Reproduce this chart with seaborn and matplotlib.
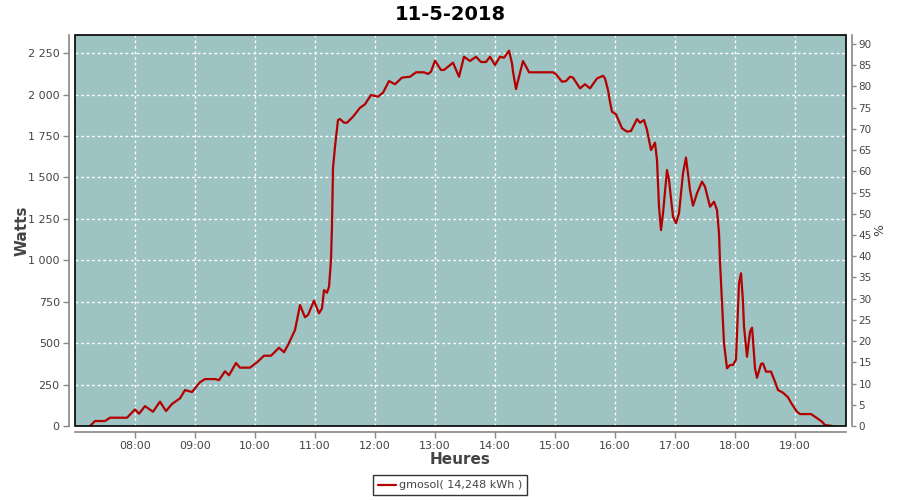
import matplotlib
matplotlib.use("Agg")
import matplotlib.pyplot as plt
import matplotlib.dates as mdates
from matplotlib.ticker import FuncFormatter, MultipleLocator
from matplotlib.patches import Rectangle
import seaborn as sns
import pandas as pd

# ---- data ----
times = ["07:15", "07:20", "07:30", "07:35", "07:52", "08:00", "08:04", "08:10", "08:18", "08:25",
         "08:31", "08:37", "08:45", "08:50", "08:57", "09:05", "09:10", "09:20", "09:24", "09:30",
         "09:34", "09:41", "09:45", "09:55", "10:02", "10:09", "10:16", "10:24", "10:29", "10:33",
         "10:40", "10:45", "10:50", "10:53", "10:59", "11:04", "11:07", "11:09", "11:12", "11:14",
         "11:15", "11:16", "11:17", "11:18", "11:20", "11:22", "11:23", "11:25", "11:29", "11:32",
         "11:38", "11:45", "11:50", "11:56", "12:03", "12:08", "12:14", "12:20", "12:27", "12:35",
         "12:41", "12:49", "12:53", "12:56", "13:00", "13:06", "13:09", "13:18", "13:24", "13:29",
         "13:35", "13:41", "13:46", "13:51", "13:55", "14:00", "14:05", "14:09", "14:14", "14:17",
         "14:18", "14:21", "14:24", "14:28", "14:32", "14:34", "14:58", "15:01", "15:07", "15:11",
         "15:15", "15:18", "15:25", "15:30", "15:35", "15:42", "15:48", "15:50", "15:53", "15:55",
         "15:57", "16:01", "16:07", "16:12", "16:16", "16:22", "16:25", "16:29", "16:32", "16:36",
         "16:40", "16:42", "16:44", "16:46", "16:48", "16:52", "16:54", "16:58", "17:01", "17:04",
         "17:08", "17:11", "17:15", "17:18", "17:22", "17:27", "17:30", "17:35", "17:39", "17:42",
         "17:44", "17:45", "17:47", "17:49", "17:52", "17:55", "17:58", "18:01", "18:02", "18:04",
         "18:06", "18:08", "18:09", "18:12", "18:15", "18:17", "18:18", "18:20", "18:22", "18:26",
         "18:28", "18:31", "18:36", "18:40", "18:43", "18:48", "18:53", "18:57", "19:02", "19:05",
         "19:16", "19:20", "19:27", "19:30", "19:37"]
watts = [0, 30, 30, 50, 50, 100, 74, 120, 86, 147,
         90, 133, 167, 217, 205, 264, 283, 283, 277, 330,
         306, 380, 352, 352, 384, 424, 424, 472, 445, 489,
         579, 730, 656, 670, 756, 680, 710, 820, 804, 840,
         921, 1001, 1213, 1555, 1685, 1790, 1846, 1852, 1830, 1830,
         1866, 1920, 1941, 1997, 1987, 2011, 2081, 2062, 2102, 2107,
         2134, 2134, 2124, 2138, 2204, 2148, 2148, 2192, 2107, 2228,
         2202, 2228, 2196, 2196, 2228, 2178, 2228, 2222, 2264, 2188,
         2138, 2033, 2107, 2202, 2158, 2134, 2134, 2122, 2077, 2081,
         2107, 2102, 2037, 2062, 2037, 2097, 2113, 2097, 2027, 1956,
         1896, 1881, 1796, 1776, 1780, 1852, 1830, 1846, 1786, 1665,
         1709, 1605, 1323, 1182, 1283, 1544, 1484, 1263, 1223, 1283,
         1525, 1619, 1424, 1329, 1404, 1474, 1444, 1323, 1353, 1303,
         1163, 991, 740, 499, 348, 368, 368, 400, 559, 861,
         921, 750, 600, 418, 569, 593, 519, 348, 291, 374,
         378, 328, 328, 267, 217, 201, 173, 131, 86, 72,
         72, 56, 26, 6, 0]
series_label = "gmosol( 14,248 kWh )"
title = "11-5-2018"
date = "2018-05-11"

df = pd.DataFrame({"time": pd.to_datetime([f"{date} {t}" for t in times]),
                   "watts": watts})

sns.set_theme(style="white")
plt.rcParams["font.family"] = ["DejaVu Sans"]

BG = "#9dc3c2"
RED = "#b40000"
TXT = "#444444"
AX = "#888888"

fig = plt.figure(figsize=(9, 5), dpi=100)
ax = fig.add_axes([75 / 900, 1 - 426 / 500, (846 - 75) / 900, (426 - 35) / 500])
ax.set_facecolor(BG)

sns.lineplot(data=df, x="time", y="watts", ax=ax, color=RED, linewidth=1.6,
             label=series_label, legend=False)

ax.set_xlim(pd.Timestamp(f"{date} 07:00"), pd.Timestamp(f"{date} 19:51"))
ax.set_ylim(0, 2359)
ax.yaxis.set_major_locator(MultipleLocator(250))
ax.yaxis.set_major_formatter(FuncFormatter(lambda v, p: f"{int(v):,}".replace(",", " ")))
ax.xaxis.set_major_locator(mdates.HourLocator(byhour=range(8, 20)))
ax.xaxis.set_major_formatter(mdates.DateFormatter("%H:%M"))

ax.grid(True, color="white", linestyle=(0, (2, 2)), linewidth=1)

for s in ["top", "right"]:
    ax.spines[s].set_visible(False)
for s in ["left", "bottom"]:
    ax.spines[s].set_position(("outward", 4))
    ax.spines[s].set_color(AX)
    ax.spines[s].set_linewidth(1.2)
ax.add_patch(Rectangle((0, 0), 1, 1, transform=ax.transAxes, fill=False,
                       edgecolor="black", linewidth=1.2, clip_on=False, zorder=5))

ax.tick_params(axis="both", which="major", direction="out", length=4, width=1,
               color=AX, labelsize=8, labelcolor=TXT, left=True, bottom=True, pad=3)

ax.set_xlabel("Heures", fontsize=11, color=TXT, fontweight="semibold")
ax.set_ylabel("Watts", fontsize=11, color=TXT, fontweight="semibold")
ax.xaxis.set_label_coords(0.5, (426 - 460) / 391, transform=ax.transAxes)
ax.yaxis.set_label_coords((22 - 75) / 771, 0.5, transform=ax.transAxes)
ax.xaxis.label.set_va("center")
ax.yaxis.label.set_va("center")

ax2 = ax.twinx()
ax2.set_ylim(0, 92.1)
ax2.yaxis.set_major_locator(MultipleLocator(5))
for s in ["top", "left", "bottom"]:
    ax2.spines[s].set_visible(False)
ax2.spines["right"].set_position(("outward", 4))
ax2.spines["right"].set_color(AX)
ax2.spines["right"].set_linewidth(1.2)
ax2.tick_params(axis="y", direction="out", length=3, width=1, color=AX,
                labelsize=7.5, labelcolor=TXT, right=True, pad=2)
ax2.set_ylabel("%", fontsize=9, color=TXT)
ax2.yaxis.set_label_coords((880 - 75) / 771, 0.5, transform=ax2.transAxes)
ax2.yaxis.label.set_va("center")
ax2.grid(False)

fig.suptitle(title, fontsize=14, fontweight="bold", color="black", y=0.99)

handles, labels = ax.get_legend_handles_labels()
leg = fig.legend(handles, labels, loc="lower center", bbox_to_anchor=(0.5, -0.002),
                 fontsize=8, frameon=True, fancybox=False, handlelength=1.6,
                 handletextpad=0.3, borderpad=0.45, labelcolor=TXT)
leg.get_frame().set_edgecolor("black")
leg.get_frame().set_linewidth(1)

fig.savefig("out.png", dpi=100)
